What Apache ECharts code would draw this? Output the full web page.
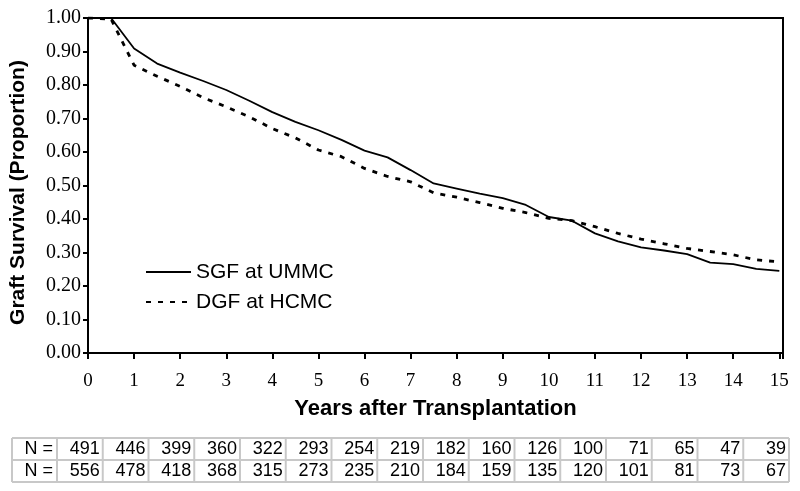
<!DOCTYPE html>
<html>
<head>
<meta charset="utf-8">
<script src="https://cdn.jsdelivr.net/npm/echarts@6/dist/echarts.min.js"></script>
<style>html,body{margin:0;padding:0;background:#fff;}#c{width:800px;height:491px;}</style>
</head>
<body>
<div id="c"></div>
<script>
const years = [0,0.5,1,1.5,2,2.5,3,3.5,4,4.5,5,5.5,6,6.5,7,7.5,8,8.5,9,9.5,10,10.5,11,11.5,12,12.5,13,13.5,14,14.5,15];
const sgfUMMC = [1.00,1.00,0.909,0.864,0.837,0.812,0.785,0.753,0.719,0.690,0.665,0.636,0.604,0.584,0.546,0.506,0.491,0.476,0.462,0.442,0.406,0.395,0.357,0.333,0.315,0.306,0.295,0.270,0.265,0.251,0.245];
const dgfHCMC = [1.00,0.997,0.859,0.826,0.796,0.762,0.735,0.705,0.670,0.642,0.606,0.586,0.551,0.527,0.511,0.478,0.465,0.449,0.432,0.419,0.402,0.395,0.377,0.357,0.340,0.326,0.312,0.303,0.293,0.278,0.272];
const seriesNames = ['SGF at UMMC','DGF at HCMC'];
const rowLabel = 'N =';
const nUMMC = [491,446,399,360,322,293,254,219,182,160,126,100,71,65,47,39];
const nHCMC = [556,478,418,368,315,273,235,210,184,159,135,120,101,81,73,67];

const chart = echarts.init(document.getElementById('c'));
const pair = (xs, ys) => xs.map((x,i)=>[x, ys[i]]);
const SANS = '"Liberation Sans", Arial, sans-serif';
const SERIF = '"Liberation Serif", "Times New Roman", serif';

// table graphic
const tbl = {left:12, top:438, firstW:45, colW:45.75, rowH:22};
const gEls = [];
const rows = [nUMMC, nHCMC];
const totalW = tbl.firstW + tbl.colW * nUMMC.length;
const border = {stroke:'#c8c8c8', lineWidth:2};
for (let r=0;r<=rows.length;r++){
  gEls.push({type:'line', shape:{x1:tbl.left, y1:tbl.top+r*tbl.rowH, x2:tbl.left+totalW, y2:tbl.top+r*tbl.rowH}, style:border});
}
for (let c=0;c<=nUMMC.length+1;c++){
  const x = c===0 ? tbl.left : tbl.left + tbl.firstW + (c-1)*tbl.colW;
  gEls.push({type:'line', shape:{x1:x, y1:tbl.top, x2:x, y2:tbl.top+rows.length*tbl.rowH}, style:border});
}
rows.forEach((row, r) => {
  const cy = tbl.top + r*tbl.rowH + tbl.rowH/2 + 0.5;
  gEls.push({type:'text', x: tbl.left + tbl.firstW - 4, y: cy,
    style:{text:rowLabel, fill:'#000', font:'18px ' + SANS, align:'right', verticalAlign:'middle'}});
  row.forEach((v, c) => {
    gEls.push({type:'text', x: tbl.left + tbl.firstW + (c+1)*tbl.colW - 3, y: cy,
      style:{text:String(v), fill:'#000', font:'18px ' + SANS, align:'right', verticalAlign:'middle'}});
  });
});

chart.setOption({
  animation:false,
  backgroundColor:'#fff',
  grid:{left:88, right:17, top:18, bottom:138, show:true, borderColor:'#000', borderWidth:2, backgroundColor:'transparent'},
  legend:{
    orient:'vertical', left:145, top:261, padding:0, itemWidth:45, itemHeight:4, itemGap:8,
    itemStyle:{opacity:0},
    textStyle:{fontFamily:SANS, fontSize:21, color:'#000', lineHeight:22},
    data: seriesNames
  },
  xAxis:{
    type:'value', min:0, max:15.08, interval:1,
    name:'Years after Transplantation', nameLocation:'middle', nameGap:45,
    nameTextStyle:{fontFamily:SANS, fontSize:22, fontWeight:'bold', color:'#000'},
    axisLine:{show:true, onZero:false, lineStyle:{color:'#000', width:2}},
    axisTick:{show:true, inside:false, length:6, lineStyle:{color:'#000', width:2}},
    axisLabel:{margin:19, color:'#000', fontFamily:SERIF, fontSize:19,
      formatter:v => Number.isInteger(v) ? String(v) : ''},
    splitLine:{show:false}
  },
  yAxis:{
    type:'value', min:0, max:1, interval:0.1,
    name:'Graft Survival (Proportion)', nameLocation:'middle', nameGap:59, nameRotate:90,
    nameTextStyle:{fontFamily:SANS, fontSize:21, fontWeight:'bold', color:'#000', padding:[0,14,0,0]},
    axisLine:{show:true, lineStyle:{color:'#000', width:2}},
    axisTick:{show:true, length:5, lineStyle:{color:'#000', width:2}},
    axisLabel:{margin:7, color:'#000', fontFamily:SERIF, fontSize:20,
      formatter:v => v.toFixed(2)},
    splitLine:{show:false}
  },
  series:[
    {name:seriesNames[0], type:'line', data:pair(years, sgfUMMC), symbol:'none', showSymbol:false,
      lineStyle:{color:'#000', width:1.8, type:'solid'}, itemStyle:{color:'#000'}},
    {name:seriesNames[1], type:'line', data:pair(years, dgfHCMC), symbol:'none', showSymbol:false,
      lineStyle:{color:'#000', width:2.8, type:[5,7]}, itemStyle:{color:'#000'}}
  ],
  graphic: gEls
});
</script>
</body>
</html>
